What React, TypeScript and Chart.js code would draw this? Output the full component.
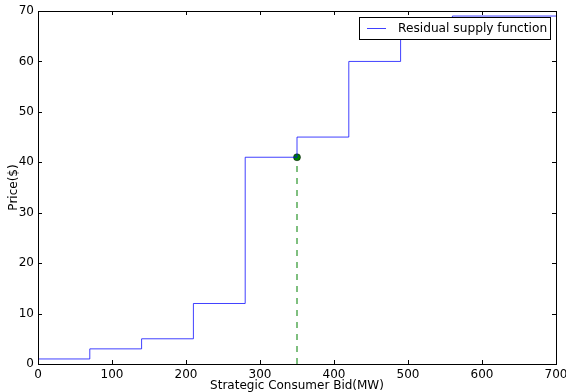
import React, { useEffect, useRef } from "react";
import { Chart, registerables } from "chart.js";

Chart.register(...registerables);

const stepX = [0, 70, 140, 210, 280, 350, 420, 490, 560, 700];
const stepY = [1, 3, 5, 12, 41, 45, 60, 65, 69, 69];
const eqX = [350];
const eqY = [41];
const legendLabel = "Residual supply function";
const xTitle = "Strategic Consumer Bid(MW)";
const yTitle = "Price($)";

const FONT = "'DejaVu Sans', sans-serif";

const framePlugin = {
  id: "frameTicks",
  afterDatasetsDraw(chart: any) {
    const { ctx, chartArea, scales } = chart;
    const { left, right, top, bottom } = chartArea;
    ctx.save();
    ctx.strokeStyle = "#000";
    ctx.lineWidth = 1;
    ctx.beginPath();
    scales.x.ticks.forEach((t: any) => {
      const px = Math.round(scales.x.getPixelForValue(t.value)) + 0.5;
      ctx.moveTo(px, bottom);
      ctx.lineTo(px, bottom - 4);
      ctx.moveTo(px, top);
      ctx.lineTo(px, top + 4);
    });
    scales.y.ticks.forEach((t: any) => {
      const py = Math.round(scales.y.getPixelForValue(t.value)) + 0.5;
      ctx.moveTo(left, py);
      ctx.lineTo(left + 4, py);
      ctx.moveTo(right, py);
      ctx.lineTo(right - 4, py);
    });
    ctx.stroke();
    ctx.strokeRect(Math.round(left) + 0.5, Math.round(top) + 0.5, Math.round(right - left), Math.round(bottom - top));

    // x axis title
    ctx.fillStyle = "#000";
    ctx.font = `12px ${FONT}`;
    ctx.textAlign = "center";
    ctx.textBaseline = "middle";
    ctx.fillText(xTitle, (left + right) / 2, 386);

    // legend
    const bx = 359.5, by = 17.5, bw = 191, bh = 22;
    ctx.fillStyle = "#fff";
    ctx.fillRect(bx, by, bw, bh);
    ctx.strokeStyle = "#000";
    ctx.strokeRect(bx, by, bw, bh);
    ctx.strokeStyle = "rgba(0,0,255,0.75)";
    ctx.beginPath();
    ctx.moveTo(367, by + bh / 2);
    ctx.lineTo(386, by + bh / 2);
    ctx.stroke();
    ctx.fillStyle = "#000";
    ctx.font = `12.2px ${FONT}`;
    ctx.textBaseline = "middle";
    ctx.textAlign = "left";
    ctx.fillText(legendLabel, 398, by + bh / 2 + 0.5);
    ctx.restore();
  },
};

export default function App() {
  const ref = useRef<HTMLCanvasElement>(null);
  useEffect(() => {
    document.body.style.margin = "0";
    const stepData = stepX.map((x, i) => ({ x, y: stepY[i] }));
    const chart = new Chart(ref.current!, {
      type: "line",
      data: {
        datasets: [
          {
            data: stepData,
            stepped: "before",
            borderColor: "rgba(0,0,255,0.75)",
            borderWidth: 1,
            pointRadius: 0,
            fill: false,
          },
          {
            data: [
              { x: eqX[0], y: 0 },
              { x: eqX[0], y: eqY[0] },
            ],
            borderColor: "#008000",
            borderWidth: 1,
            borderDash: [6, 6],
            pointRadius: 0,
            fill: false,
          },
          {
            data: eqX.map((x, i) => ({ x, y: eqY[i] })),
            showLine: false,
            pointRadius: 3.5,
            pointBackgroundColor: "#008000",
            pointBorderColor: "#000",
            pointBorderWidth: 0.5,
          },
        ],
      },
      options: {
        animation: false,
        responsive: false,
        devicePixelRatio: 1,
        layout: { padding: { top: 11, right: 10, left: 0, bottom: 0 } },
        plugins: { legend: { display: false }, tooltip: { enabled: false } },
        scales: {
          x: {
            type: "linear",
            min: 0,
            max: 700,
            ticks: { stepSize: 100, color: "#000", font: { family: FONT, size: 12 }, padding: 4, maxRotation: 0 },
            grid: { display: false, drawTicks: false },
            border: { display: false },
            title: { display: false },
            afterFit: (s: any) => { s.height = 28; s.paddingRight = 0; s.paddingLeft = 0; },
          },
          y: {
            type: "linear",
            min: 0,
            max: 70,
            ticks: { stepSize: 10, color: "#000", font: { family: FONT, size: 12 }, padding: 4 },
            grid: { display: false, drawTicks: false },
            border: { display: false },
            title: { display: true, text: yTitle, color: "#000", font: { family: FONT, size: 12 }, padding: { top: 7, bottom: 0 } },
            afterFit: (s: any) => { s.width = 38; s.paddingTop = 0; s.paddingBottom = 0; },
          },
        },
      },
      plugins: [framePlugin],
    });
    return () => chart.destroy();
  }, []);
  return (
    <canvas
      ref={ref}
      width={566}
      height={392}
      style={{ position: "fixed", left: 0, top: 0, width: 566, height: 392 }}
    />
  );
}
